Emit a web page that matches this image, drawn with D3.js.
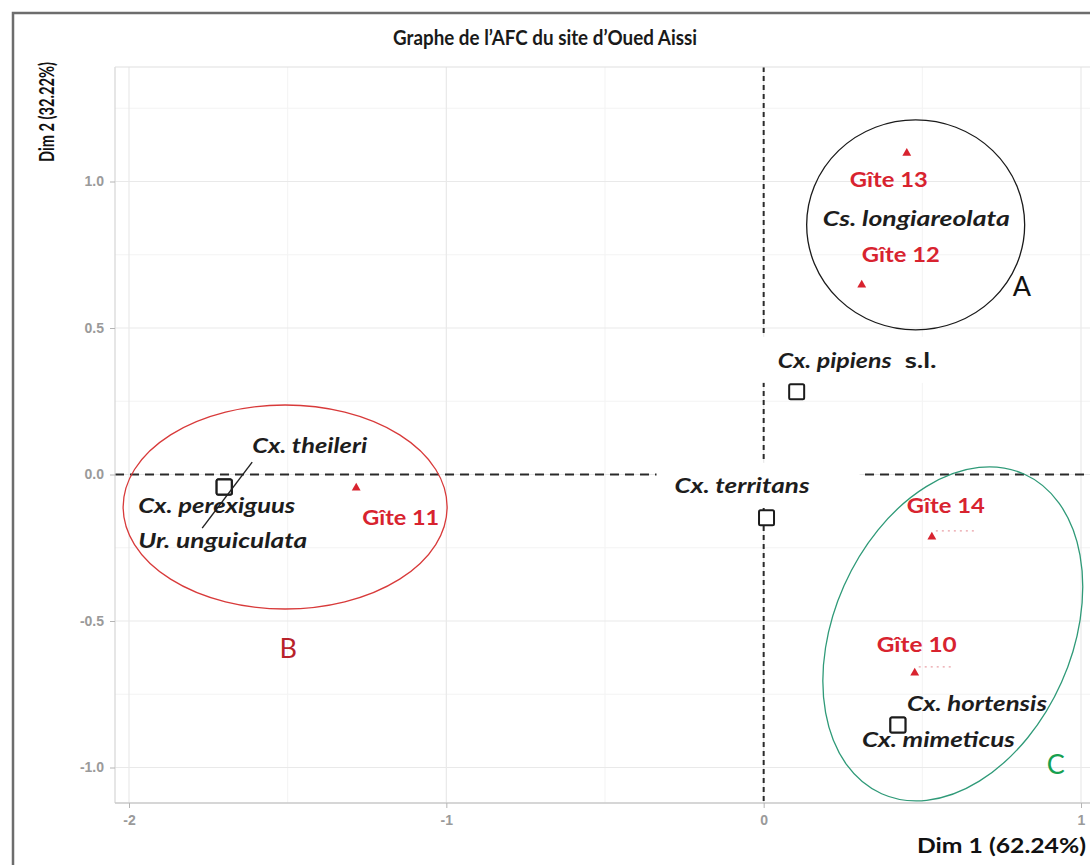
<!DOCTYPE html>
<html><head><meta charset="utf-8">
<script src="https://cdn.jsdelivr.net/npm/d3@7"></script>
<style>body{margin:0;background:#fff}svg{display:block}</style>
</head><body><svg id="chart" width="1090" height="865"></svg>
<script>
// ---------- data ----------
const chartTitle = "Graphe de l’AFC du site d’Oued Aissi";
const xAxisTitle = "Dim 1 (62.24%)";
const yAxisTitle = "Dim 2 (32.22%)";
const xTickValues = [-2, -1, 0, 1];
const xTickLabels = ["-2", "-1", "0", "1"];
const yTickValues = [-1, -0.5, 0, 0.5, 1];
const yTickLabels = ["-1.0", "-0.5", "0.0", "0.5", "1.0"];
const siteNames = ["Gîte 10", "Gîte 11", "Gîte 12", "Gîte 13", "Gîte 14"];
const siteDim1 = [0.476, -1.284, 0.309, 0.451, 0.530];
const siteDim2 = [-0.677, -0.046, 0.647, 1.097, -0.213];
const speciesNames = ["Cx. theileri", "Cx. perexiguus", "Ur. unguiculata", "Cx. pipiens", "Cx. territans", "Cx. hortensis", "Cx. mimeticus"];
const speciesDim1 = [-1.700, -1.700, -1.700, 0.104, 0.009, 0.423, 0.423];
const speciesDim2 = [-0.043, -0.043, -0.043, 0.282, -0.148, -0.855, -0.855];
const groupNames = ["A", "B", "C"];
const groupDim1 = [0.479, -1.508, 0.596];
const groupDim2 = [0.852, -0.111, -0.544];

// ---------- layout / style ----------
const W = 1090, H = 865;
const panel = {left: 115, top: 67, right: 1110, bottom: 803};
const FONT = "Lato, 'Open Sans', sans-serif";
const RED = "#d8232f";
const svg = d3.select("#chart");
svg.append("rect").attr("width", W).attr("height", H).attr("fill", "#fff");

const x = d3.scaleLinear().domain([-2, 1]).range([129, 1081]);
const y = d3.scaleLinear().domain([-1, 1]).range([767.5, 181.5]);

// outer frame
svg.append("rect").attr("x", 13).attr("y", 13).attr("width", 1200).attr("height", 1000)
  .attr("fill", "none").attr("stroke", "#6d6d6d").attr("stroke-width", 2.5);

// title
svg.append("text").attr("x", 545).attr("y", 45).attr("text-anchor", "middle")
  .attr("font-family", FONT).attr("font-weight", 700).attr("font-size", 21)
  .attr("fill", "#1a1a1a").attr("textLength", 304).attr("lengthAdjust", "spacingAndGlyphs")
  .text(chartTitle);

// clip
svg.append("clipPath").attr("id", "pclip").append("rect")
  .attr("x", panel.left).attr("y", panel.top)
  .attr("width", panel.right - panel.left).attr("height", panel.bottom - panel.top);
const g = svg.append("g").attr("clip-path", "url(#pclip)");

// grid
const minorX = d3.range(-2.5, 1.6, 1);
const minorY = d3.range(-1.25, 1.5, 0.5);
g.selectAll(".mx").data(minorX).join("line")
  .attr("x1", d => x(d)).attr("x2", d => x(d)).attr("y1", panel.top).attr("y2", panel.bottom)
  .attr("stroke", "#f3f3f3").attr("stroke-width", 1);
g.selectAll(".my").data(minorY).join("line")
  .attr("y1", d => y(d)).attr("y2", d => y(d)).attr("x1", panel.left).attr("x2", panel.right)
  .attr("stroke", "#f3f3f3").attr("stroke-width", 1);
g.selectAll(".gx").data(xTickValues).join("line")
  .attr("x1", d => x(d)).attr("x2", d => x(d)).attr("y1", panel.top).attr("y2", panel.bottom)
  .attr("stroke", "#e9e9e9").attr("stroke-width", 1.2);
g.selectAll(".gy").data(yTickValues).join("line")
  .attr("y1", d => y(d)).attr("y2", d => y(d)).attr("x1", panel.left).attr("x2", panel.right)
  .attr("stroke", "#e9e9e9").attr("stroke-width", 1.2);

// panel border (left, top, bottom)
svg.append("line").attr("x1", panel.left).attr("x2", panel.left).attr("y1", panel.top).attr("y2", panel.bottom)
  .attr("stroke", "#d6d6d6").attr("stroke-width", 1.2);
svg.append("line").attr("x1", panel.left).attr("x2", W).attr("y1", panel.top).attr("y2", panel.top)
  .attr("stroke", "#e0e0e0").attr("stroke-width", 1.2);
svg.append("line").attr("x1", panel.left).attr("x2", W).attr("y1", panel.bottom).attr("y2", panel.bottom)
  .attr("stroke", "#c8c8c8").attr("stroke-width", 1.6);

// axes
const xAxis = d3.axisBottom(x).tickValues(xTickValues).tickSize(5).tickPadding(7)
  .tickFormat((d, i) => xTickLabels[i]);
const gxA = svg.append("g").attr("transform", `translate(0,${panel.bottom})`).call(xAxis);
const yAxis = d3.axisLeft(y).tickValues(yTickValues).tickSize(5).tickPadding(6)
  .tickFormat((d, i) => yTickLabels[i]);
const gyA = svg.append("g").attr("transform", `translate(${panel.left},0)`).call(yAxis);
[gxA, gyA].forEach(a => {
  a.select(".domain").remove();
  a.selectAll(".tick line").attr("stroke", "#b5b5b5");
  a.selectAll(".tick text").attr("fill", "#9a9a9a").attr("font-family", "'Liberation Sans', Arial, sans-serif")
    .attr("font-size", 14).attr("font-weight", 700);
});

// axis titles
svg.append("text").attr("transform", "translate(54,112) rotate(-90)").attr("text-anchor", "middle")
  .attr("font-family", FONT).attr("font-weight", 700).attr("font-size", 20).attr("fill", "#111")
  .attr("textLength", 100).attr("lengthAdjust", "spacingAndGlyphs").text(yAxisTitle);
svg.append("text").attr("x", 1086).attr("y", 853).attr("text-anchor", "end")
  .attr("font-family", FONT).attr("font-weight", 700).attr("font-size", 20).attr("fill", "#111")
  .attr("textLength", 169).attr("lengthAdjust", "spacingAndGlyphs").text(xAxisTitle);

// dashed reference lines
g.append("line").attr("x1", panel.left).attr("x2", panel.right).attr("y1", y(0)).attr("y2", y(0))
  .attr("stroke", "#2a2a2a").attr("stroke-width", 2).attr("stroke-dasharray", "9,6");
g.append("line").attr("x1", x(0)).attr("x2", x(0)).attr("y1", panel.top).attr("y2", panel.bottom)
  .attr("stroke", "#2a2a2a").attr("stroke-width", 2).attr("stroke-dasharray", "5,4");

const sp = i => [x(speciesDim1[i]), y(speciesDim2[i])];
const st = i => [x(siteDim1[i]), y(siteDim2[i])];

// white label boxes (edited-in label backgrounds)
const boxes = [
  {p: sp(3), x0: -42, x1: 148, y0: -55, y1: -9},
  {p: sp(4), x0: -110, x1: 93, y0: -55, y1: -10}
];
g.selectAll(".box").data(boxes).join("rect")
  .attr("x", d => d.p[0] + d.x0).attr("y", d => d.p[1] + d.y0)
  .attr("width", d => d.x1 - d.x0).attr("height", d => d.y1 - d.y0).attr("fill", "#fff");

// group ellipses
const ellipses = [
  {i: 0, rx: 109, ry: 105, rot: 0, stroke: "#1a1a1a"},
  {i: 1, rx: 162, ry: 102, rot: 0, stroke: "#d83a3a"},
  {i: 2, rx: 119, ry: 175, rot: 24, stroke: "#2f9a78"}
];
g.selectAll(".ell").data(ellipses).join("ellipse")
  .attr("transform", d => `translate(${x(groupDim1[d.i])},${y(groupDim2[d.i])}) rotate(${d.rot})`)
  .attr("rx", d => d.rx).attr("ry", d => d.ry)
  .attr("fill", "none").attr("stroke", d => d.stroke).attr("stroke-width", 1.3);

// faint leader remnants
const faint = [
  {p: st(4), x0: 4, x1: 44, dy: -6},
  {p: st(0), x0: 4, x1: 40, dy: -6}
];
g.selectAll(".faint").data(faint).join("line")
  .attr("x1", d => d.p[0] + d.x0).attr("x2", d => d.p[0] + d.x1)
  .attr("y1", d => d.p[1] + d.dy).attr("y2", d => d.p[1] + d.dy)
  .attr("stroke", "#e9a0a6").attr("stroke-width", 1.2).attr("stroke-dasharray", "2,4");

// species markers (squares)
g.selectAll(".sq").data(speciesNames.map((n, i) => i)).join("rect")
  .attr("x", i => x(speciesDim1[i]) - 7.5).attr("y", i => y(speciesDim2[i]) - 7.5)
  .attr("width", 15).attr("height", 15).attr("rx", 1.5)
  .attr("fill", "#fff").attr("stroke", "#1c1c1c").attr("stroke-width", 2);

// leader segment through the Cx. theileri square
const p0 = sp(0);
g.append("line").attr("x1", p0[0] + 28).attr("y1", p0[1] - 25).attr("x2", p0[0] - 22).attr("y2", p0[1] + 41)
  .attr("stroke", "#222").attr("stroke-width", 1.4);

// site markers (triangles)
const tri = d3.symbol().type(d3.symbolTriangle).size(34);
g.selectAll(".tri").data(siteNames.map((n, i) => i)).join("path")
  .attr("transform", i => `translate(${x(siteDim1[i])},${y(siteDim2[i])})`)
  .attr("d", tri).attr("fill", RED);

// labels
function label(p, dx, dy, txt, opts) {
  const t = g.append("text").attr("x", p[0] + dx).attr("y", p[1] + dy)
    .attr("font-family", FONT).attr("font-weight", opts.weight || 700)
    .attr("font-style", opts.italic ? "italic" : "normal")
    .attr("font-size", opts.size || 21).attr("fill", opts.color || "#1a1a1a")
    .attr("text-anchor", opts.anchor || "start").text(txt);
  if (opts.len) t.attr("textLength", opts.len).attr("lengthAdjust", "spacingAndGlyphs");
  return t;
}
const sq = {italic: true, color: "#1d1d1d"};
label(sp(0), 28, -34, speciesNames[0], {...sq, len: 115});
label(sp(1), -86, 26, speciesNames[1], {...sq, len: 157});
label(sp(2), -86, 61, speciesNames[2], {...sq, len: 169});
label(sp(3), -19, -24, speciesNames[3], {...sq, len: 114});
label(sp(3), 108, -24, "s.l.", {color: "#1d1d1d", len: 32});
label(sp(4), -92, -25, speciesNames[4], {...sq, len: 135});
label(sp(5), 9, -14, speciesNames[5], {...sq, len: 140});
label(sp(6), -36, 22, speciesNames[6], {...sq, len: 153});
label(st(3), -84, 73, "Cs. longiareolata", {...sq, len: 187});

const gt = {color: RED, size: 21};
label(st(0), -38, -21, siteNames[0], {...gt, len: 80});
label(st(1), 6, 37, siteNames[1], {...gt, len: 77});
label(st(2), 0, -23, siteNames[2], {...gt, len: 78});
label(st(3), -57, 34, siteNames[3], {...gt, len: 78});
label(st(4), -25, -24, siteNames[4], {...gt, len: 78});

// group letters
const gl = i => [x(groupDim1[i]), y(groupDim2[i])];
label(gl(0), 97, 71, groupNames[0], {weight: 400, size: 27, color: "#111"});
label(gl(1), 3, 151, groupNames[1], {weight: 400, size: 27, color: "#b8222a", anchor: "middle"});
label(gl(2), 94, 140, groupNames[2], {weight: 400, size: 27, color: "#16a050"});
</script></body></html>
